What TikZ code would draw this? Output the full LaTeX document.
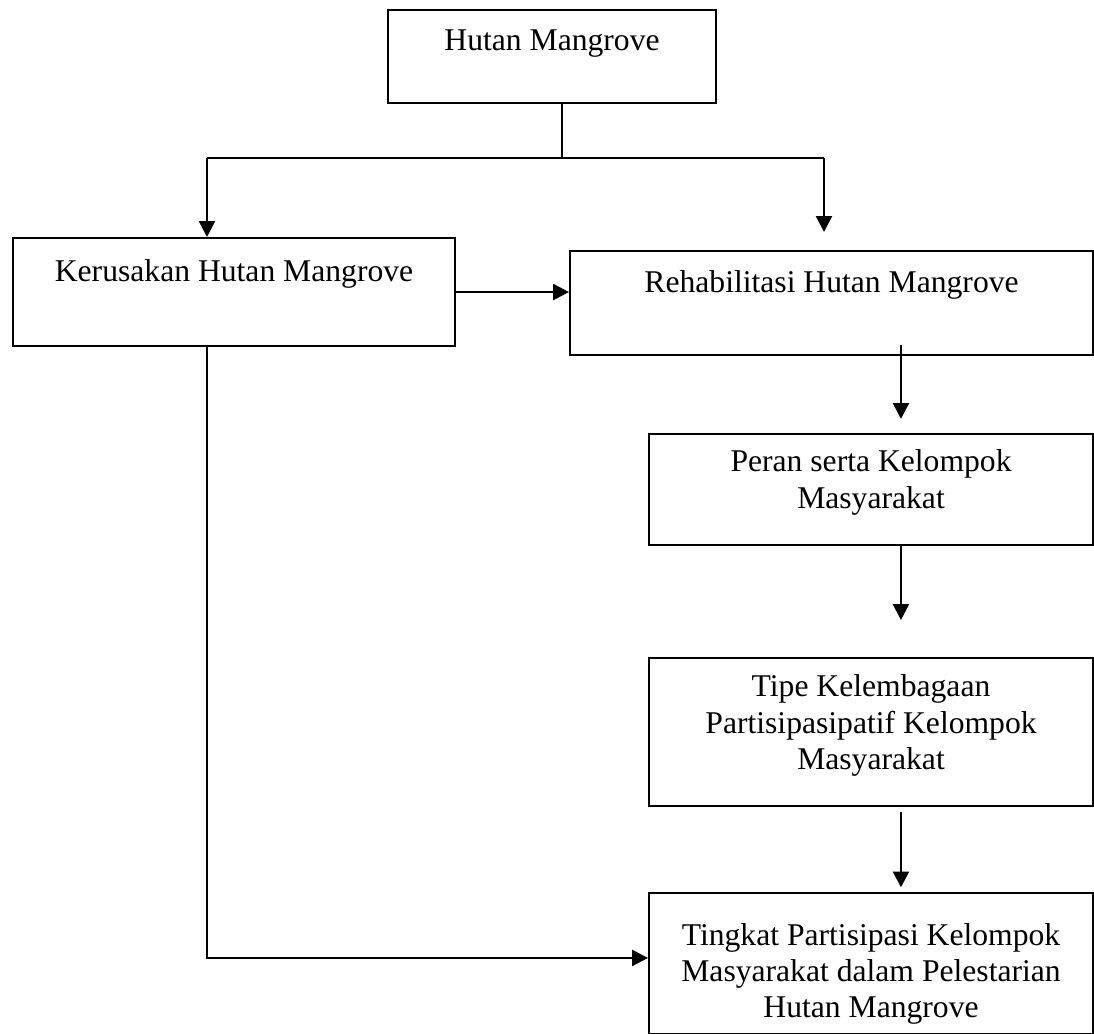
\documentclass[tikz,border=0pt]{standalone}
\usepackage{fontspec}
\setmainfont{Liberation Serif}
\usepackage{tikz}
\usetikzlibrary{arrows.meta,calc}

\begin{document}
\begin{tikzpicture}[box/.style={draw,line width=0.8pt,anchor=north west,inner sep=0pt},
  txt/.style={anchor=north,inner sep=0pt,align=center,font=\fontsize{12}{13.8}\selectfont,execute at begin node=\strut},
  line/.style={line width=1pt},
  arr/.style={line width=1pt,-{Triangle[length=6pt,width=6pt]}}]
\useasboundingbox (0,0) rectangle (14.587,-13.787);
\node[box,minimum width=4.373cm,minimum height=1.232cm] (hutan) at (5.16,-0.124) {};
\node[box,minimum width=5.893cm,minimum height=1.44cm] (rusak) at (0.16,-3.16) {};
\node[box,minimum width=6.973cm,minimum height=1.387cm] (rehab) at (7.587,-3.333) {};
\node[box,minimum width=5.92cm,minimum height=1.48cm] (peran) at (8.64,-5.773) {};
\node[box,minimum width=5.92cm,minimum height=1.98cm] (tipe) at (8.64,-8.756) {};
\node[box,minimum width=5.92cm,minimum height=1.88cm] (tingkat) at (8.64,-11.893) {};
\node[txt] (hutanT) at ([yshift=-5.78pt]hutan.north) {Hutan Mangrove};
\node[txt] (rusakT) at ([yshift=-7.03pt]rusak.north) {Kerusakan Hutan Mangrove};
\node[txt] (rehabT) at ([yshift=-6.27pt]rehab.north) {Rehabilitasi Hutan Mangrove};
\node[txt] (peranT) at ([yshift=-6.27pt]peran.north) {Peran serta Kelompok\\Masyarakat};
\node[txt] (tipeT) at ([yshift=-6.65pt]tipe.north) {Tipe Kelembagaan\\Partisipasipatif Kelompok\\Masyarakat};
\node[txt] (tingkatT) at ([yshift=-11.6pt]tingkat.north) {Tingkat Partisipasi Kelompok\\Masyarakat dalam Pelestarian\\Hutan Mangrove};
\coordinate (split) at (7.493,-2.107);
\coordinate (jl) at (2.76,-2.107);
\coordinate (jr) at (10.987,-2.107);
\coordinate (col) at (12.013,0);
\coordinate (low) at (0,-12.773);
\draw[line] (hutan.south -| split) -- (split);
\draw[line] (jl) -- (jr);
\draw[arr] (jl) -- (jl |- rusak.north);
\draw[arr,shorten >=0.24cm] (jr) -- (jr |- rehab.north);
\draw[arr] (rusak.east) -- (rusak.east -| rehab.west);
\draw[arr,shorten <=-0.151cm,shorten >=0.187cm] (col |- rehab.south) -- (col |- peran.north);
\draw[arr,shorten >=0.489cm] (col |- peran.south) -- (col |- tipe.north);
\draw[arr,shorten <=0.067cm,shorten >=0.061cm] (col |- tipe.south) -- (col |- tingkat.north);
\draw[arr] (jl |- rusak.south) |- (tingkat.west |- low);
\end{tikzpicture}
\end{document}
